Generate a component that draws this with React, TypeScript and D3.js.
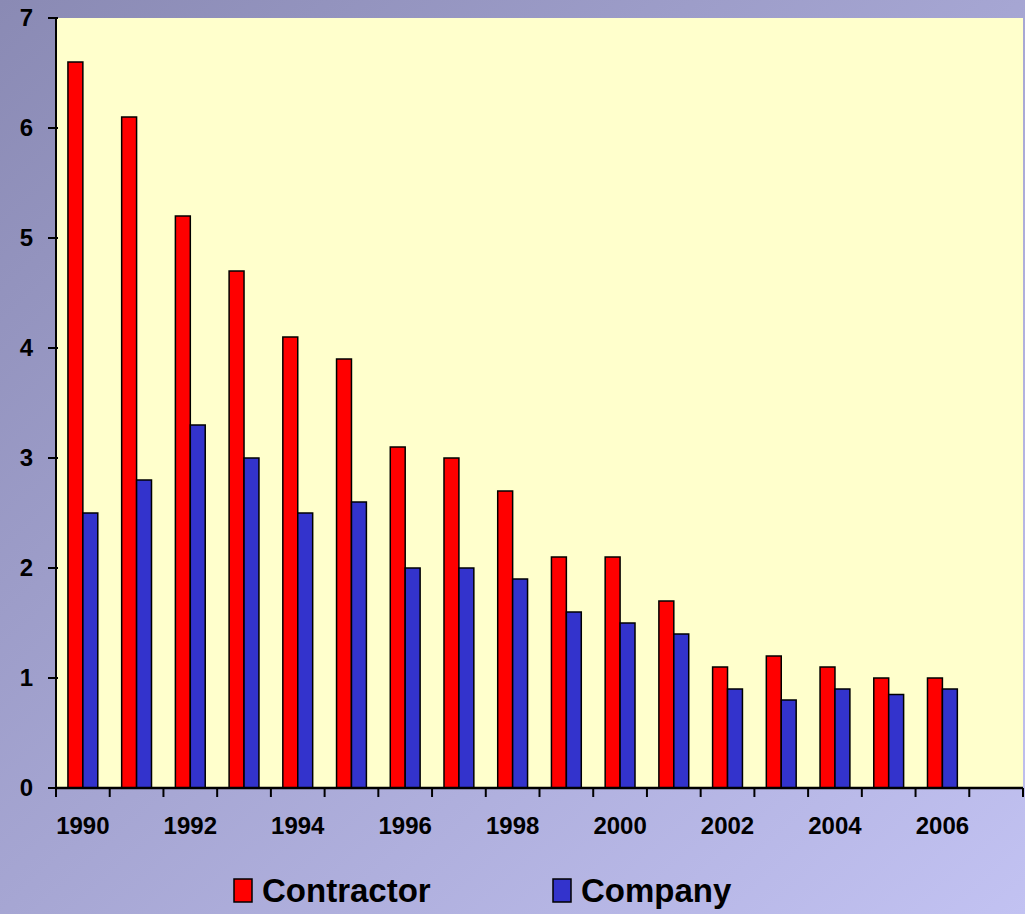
import React from "react";
import { scaleBand, scaleLinear, range } from "d3";

const red = "#ff0000";
const blue = "#3333cc";

const years = range(1990, 2008).map(String);
const tickYears = ["1990", "1992", "1994", "1996", "1998", "2000", "2002", "2004", "2006"];
const contractor = [6.6, 6.1, 5.2, 4.7, 4.1, 3.9, 3.1, 3.0, 2.7, 2.1, 2.1, 1.7, 1.1, 1.2, 1.1, 1.0, 1.0];
const company = [2.5, 2.8, 3.3, 3.0, 2.5, 2.6, 2.0, 2.0, 1.9, 1.6, 1.5, 1.4, 0.9, 0.8, 0.9, 0.85, 0.9];
const yTicks = [0, 1, 2, 3, 4, 5, 6, 7];
const seriesNames = ["Contractor", "Company"];

const W = 1025;
const H = 914;
const left = 56;
const right = 1023;
const top = 18;
const bottom = 788;
const font = "'Liberation Sans', Arial, sans-serif";

export default function App() {
  const x = scaleBand<string>().domain(years).range([left, right]);
  const inner = scaleBand<string>()
    .domain(seriesNames)
    .range([0, x.bandwidth()])
    .paddingOuter(0.8);
  const y = scaleLinear().domain([0, 7]).range([bottom, top]);

  const series = [
    { name: "Contractor", values: contractor, color: red },
    { name: "Company", values: company, color: blue },
  ];

  return (
    <div style={{ position: "absolute", left: 0, top: 0 }}>
      <svg width={W} height={H} style={{ display: "block" }}>
        <defs>
          <linearGradient id="bg" x1="0" y1="0" x2="1" y2="1">
            <stop offset="0%" stopColor="#8a8ab4" />
            <stop offset="100%" stopColor="#c2c2f2" />
          </linearGradient>
        </defs>
        <rect width={W} height={H} fill="url(#bg)" />
        <rect x={left} y={top} width={right - left} height={bottom - top} fill="#ffffcc" />

        {series.map(s =>
          s.values.map((v, i) => (
            <rect
              key={s.name + i}
              x={x(years[i])! + inner(s.name)!}
              y={y(v)}
              width={inner.bandwidth()}
              height={y(0) - y(v)}
              fill={s.color}
              stroke="#000"
              strokeWidth={1.5}
            />
          ))
        )}

        {/* axes */}
        <line x1={left} x2={left} y1={top} y2={bottom} stroke="#000" strokeWidth={2} />
        <line x1={left} x2={right} y1={bottom} y2={bottom} stroke="#000" strokeWidth={2.5} />
        {yTicks.map(t => (
          <g key={t}>
            <line x1={left - 8} x2={left + 2} y1={y(t)} y2={y(t)} stroke="#000" strokeWidth={2} />
            <text
              x={33}
              y={y(t)}
              dy="0.35em"
              textAnchor="end"
              fontFamily={font}
              fontWeight="bold"
              fontSize={24}
            >
              {t}
            </text>
          </g>
        ))}
        {years.concat(["end"]).map((yr, i) => {
          const px = i < years.length ? x(yr)! : right;
          return <line key={yr} x1={px} x2={px} y1={bottom} y2={bottom + 9} stroke="#000" strokeWidth={2} />;
        })}
        {tickYears.map(yr => (
          <text
            key={yr}
            x={x(yr)! + x.bandwidth() / 2}
            y={834}
            textAnchor="middle"
            fontFamily={font}
            fontWeight="bold"
            fontSize={24}
          >
            {yr}
          </text>
        ))}

        {/* legend */}
        {series.map((s, i) => {
          const lx = i === 0 ? 234 : 553;
          return (
            <g key={s.name}>
              <rect x={lx} y={879} width={18} height={23} fill={s.color} stroke="#000" strokeWidth={1.5} />
              <text x={lx + 28} y={902} fontFamily={font} fontWeight="bold" fontSize={33}>
                {s.name}
              </text>
            </g>
          );
        })}
      </svg>
    </div>
  );
}
